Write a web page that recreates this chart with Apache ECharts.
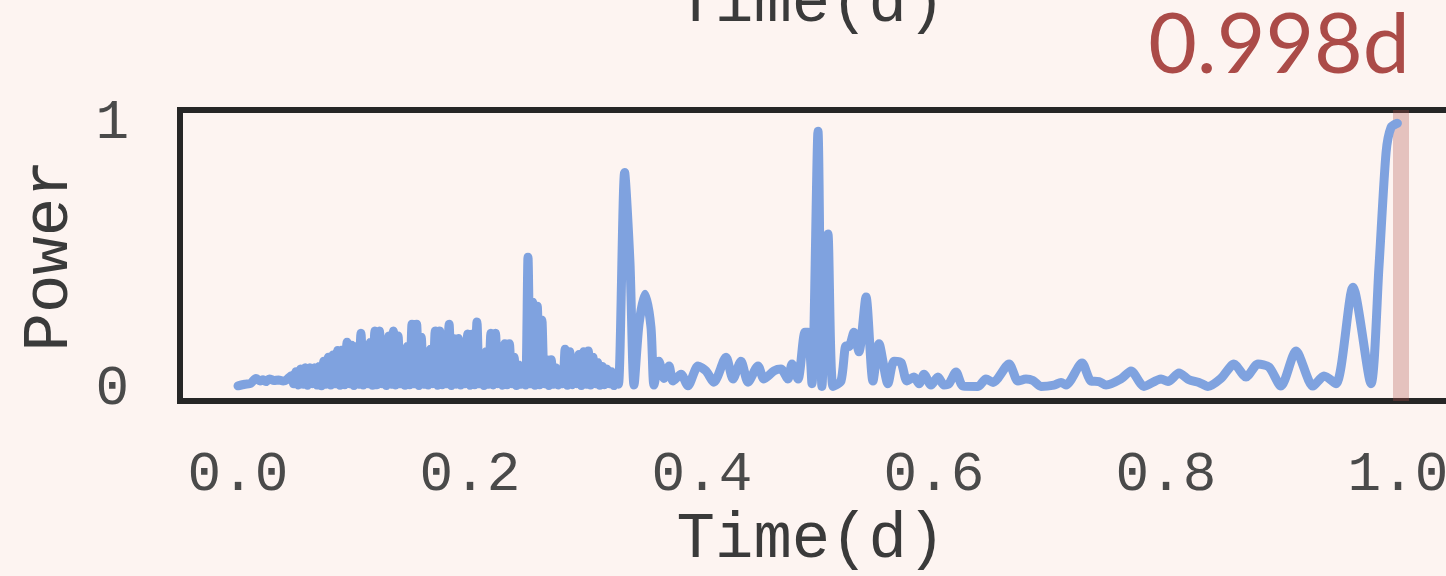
<!DOCTYPE html>
<html>
<head>
<meta charset="utf-8">
<script src="https://cdn.jsdelivr.net/npm/echarts@6/dist/echarts.min.js"></script>
<style>
html,body{margin:0;padding:0;background:#fdf4f1;}
#chart{width:1446px;height:576px;}
</style>
</head>
<body>
<div id="chart"></div>
<script>
// Periodogram values (frequency axis labelled "Time(d)")
const freqLow = [0, 0.006, 0.011, 0.0155, 0.019, 0.0216, 0.024, 0.027, 0.031, 0.035, 0.039, 0.042];
const powerLow = [0.012, 0.018, 0.022, 0.04, 0.03, 0.035, 0.028, 0.038, 0.032, 0.034, 0.03, 0.035];

const freqDense = [
  0.046,0.048,0.050,0.052,0.054,0.056,0.058,0.060,0.062,0.064,0.066,0.068,0.070,0.072,0.074,0.076,0.078,0.080,0.082,0.084,
  0.086,0.088,0.090,0.092,0.094,0.096,0.098,0.100,0.102,0.104,0.106,0.108,0.110,0.112,0.114,0.116,0.118,0.120,0.122,0.124,
  0.126,0.128,0.130,0.132,0.134,0.136,0.138,0.140,0.142,0.144,0.146,0.148,0.150,0.152,0.154,0.156,0.158,0.160,0.162,0.164,
  0.166,0.168,0.170,0.172,0.174,0.176,0.178,0.180,0.182,0.184,0.186,0.188,0.190,0.192,0.194,0.196,0.198,0.200,0.202,0.204,
  0.206,0.208,0.210,0.212,0.214,0.216,0.218,0.220,0.222,0.224,0.226,0.228,0.230,0.232,0.234,0.236,0.238,0.240,0.242,0.244,
  0.246,0.248,0.250,0.252,0.254,0.256,0.258,0.260,0.262,0.264,0.266,0.268,0.270,0.272,0.274,0.276,0.278,0.280,0.282,0.284,
  0.286,0.288,0.290,0.292,0.294,0.296,0.298,0.300,0.302,0.304,0.306,0.308,0.310,0.312,0.314,0.316,0.318,0.320,0.322,0.324,
  0.326,0.328
];
const powerDense = [
  0.05,0.02, 0.065,0.015, 0.075,0.018, 0.08,0.014, 0.08,0.02, 0.08,0.015, 0.085,0.012, 0.105,0.018, 0.12,0.015, 0.128,0.02,
  0.145,0.014, 0.147,0.016, 0.176,0.02, 0.165,0.013, 0.16,0.018, 0.21,0.015, 0.143,0.02, 0.175,0.014, 0.218,0.016, 0.218,0.02,
  0.11,0.013, 0.2,0.018, 0.218,0.015, 0.2,0.02, 0.105,0.014, 0.16,0.016, 0.244,0.02, 0.244,0.013, 0.195,0.018, 0.105,0.015,
  0.15,0.02, 0.218,0.014, 0.218,0.016, 0.11,0.02, 0.244,0.013, 0.19,0.018, 0.19,0.015, 0.105,0.02, 0.207,0.014, 0.207,0.016,
  0.252,0.02, 0.1,0.013, 0.14,0.018, 0.21,0.015, 0.21,0.02, 0.16,0.014, 0.17,0.016, 0.17,0.02, 0.12,0.013, 0.09,0.018,
  0.085,0.015, 0.496,0.02, 0.327,0.014, 0.312,0.016, 0.26,0.02, 0.11,0.013, 0.11,0.018, 0.08,0.015, 0.05,0.02, 0.15,0.014,
  0.14,0.016, 0.06,0.02, 0.13,0.013, 0.14,0.018, 0.143,0.015, 0.12,0.02, 0.1,0.014, 0.085,0.016, 0.075,0.02, 0.065,0.013,
  0.05,0.018
];

const freqMid = [0.3333, 0.3379, 0.3414, 0.3457, 0.3509, 0.3560, 0.3586, 0.3629, 0.3672, 0.3716, 0.375, 0.3819, 0.3879,
  0.3966, 0.4034, 0.4103, 0.4207, 0.4267, 0.4336, 0.4397, 0.4483, 0.4534, 0.4621, 0.4681, 0.4741, 0.4776, 0.4828, 0.4888,
  0.4914, 0.4948, 0.5, 0.5034, 0.5086, 0.5129, 0.5198, 0.5241, 0.5267, 0.531, 0.5353, 0.5414, 0.5474, 0.5526, 0.5603,
  0.5655, 0.5716, 0.5767, 0.5828, 0.5871, 0.5914, 0.5974, 0.6034, 0.6086];
const powerMid = [0.815, 0.477, 0.015, 0.244, 0.357, 0.233, 0.015, 0.105, 0.04, 0.087, 0.03, 0.056, 0.012,
  0.087, 0.068, 0.026, 0.12, 0.038, 0.105, 0.026, 0.087, 0.038, 0.068, 0.075, 0.038, 0.094, 0.038, 0.214,
  0.214, 0.02, 0.97, 0.01, 0.583, 0.01, 0.03, 0.162, 0.16, 0.214, 0.14, 0.346, 0.03, 0.17, 0.02,
  0.105, 0.10, 0.03, 0.045, 0.02, 0.056, 0.015, 0.045, 0.015];

const freqTail = [0.6129, 0.619, 0.625, 0.638, 0.6448, 0.6509, 0.6647, 0.6724, 0.6793, 0.6853, 0.6922, 0.7034, 0.7095,
  0.7138, 0.7276, 0.7353, 0.7422, 0.7483, 0.7612, 0.7698, 0.781, 0.7957, 0.8017, 0.8112, 0.8198, 0.8284, 0.8362, 0.8474,
  0.8586, 0.869, 0.8793, 0.8888, 0.8991, 0.9121, 0.9267, 0.9362, 0.9466, 0.9612, 0.9767, 0.9836, 0.9897, 0.994, 0.9995];
const powerTail = [0.02, 0.064, 0.011, 0.01, 0.038, 0.025, 0.094, 0.03, 0.038, 0.032, 0.01, 0.015, 0.025,
  0.015, 0.098, 0.03, 0.028, 0.015, 0.038, 0.068, 0.01, 0.038, 0.028, 0.06, 0.035, 0.025, 0.01, 0.04,
  0.094, 0.045, 0.094, 0.083, 0.011, 0.143, 0.011, 0.049, 0.02, 0.383, 0.02, 0.46, 0.89, 0.985, 1.0];

const bestPeriodLabel = '0.998d';
const bandRange = [0.9957, 1.0095];
const xTicks = [0, 0.2, 0.4, 0.6, 0.8, 1.0];
const yTicks = [0, 1];
const xName = 'Time(d)';
const yName = 'Power';

function zip(xs, ys) { return xs.map((x, i) => [x, ys[i]]); }
const seriesData = [].concat(
  zip(freqLow, powerLow), zip(freqDense, powerDense), zip(freqMid, powerMid), zip(freqTail, powerTail)
);

const mono = "'Liberation Mono', 'DejaVu Sans Mono', monospace";
const chart = echarts.init(document.getElementById('chart'), null, {renderer: 'canvas'});
chart.setOption({
  backgroundColor: '#fdf4f1',
  animation: false,
  grid: {left: 180, top: 110, width: 1276, height: 291, show: true, containLabel: false,
         outerBoundsMode: 'none',
         borderColor: '#262626', borderWidth: 6, backgroundColor: 'transparent'},
  xAxis: {
    type: 'value', min: -0.05, max: 1.05,
    axisLine: {show: false}, axisTick: {show: false}, splitLine: {show: false},
    axisLabel: {customValues: xTicks, formatter: v => v.toFixed(1), margin: 46,
                fontFamily: mono, fontSize: 56, color: '#4a4a4a'}
  },
  yAxis: {
    type: 'value', min: -0.045, max: 1.05,
    axisLine: {show: false}, axisTick: {show: false}, splitLine: {show: false},
    axisLabel: {customValues: yTicks, formatter: v => String(v), margin: 51,
                fontFamily: mono, fontSize: 56, color: '#4a4a4a'},
    name: yName, nameLocation: 'middle', nameRotate: 90, nameGap: 98,
    nameTextStyle: {fontFamily: mono, fontSize: 64, color: '#3a3a3a'}
  },
  graphic: [
    {type: 'text', x: 811, y: 540, style: {text: xName, fontFamily: mono, fontSize: 64, fill: '#3a3a3a',
      align: 'center', verticalAlign: 'middle'}},
    {type: 'text', x: 811, y: 4, style: {text: xName, fontFamily: mono, fontSize: 64, fill: '#3a3a3a',
      align: 'center', verticalAlign: 'middle'}},
    {type: 'text', x: 1279, y: 46, style: {text: bestPeriodLabel, fontFamily: 'Lato', fontSize: 84, fill: '#ab4b48',
      align: 'center', verticalAlign: 'middle'}}
  ],
  series: [
    {type: 'line', data: seriesData, showSymbol: false, smooth: 0.25, z: 2,
     lineStyle: {color: '#7fa2df', width: 9, cap: 'round', join: 'round'}},
    {type: 'line', data: [], z: 5,
     markArea: {silent: true, itemStyle: {color: 'rgba(176,78,74,0.3)'},
                data: [[{xAxis: bandRange[0]}, {xAxis: bandRange[1]}]]}}
  ]
});
</script>
</body>
</html>
